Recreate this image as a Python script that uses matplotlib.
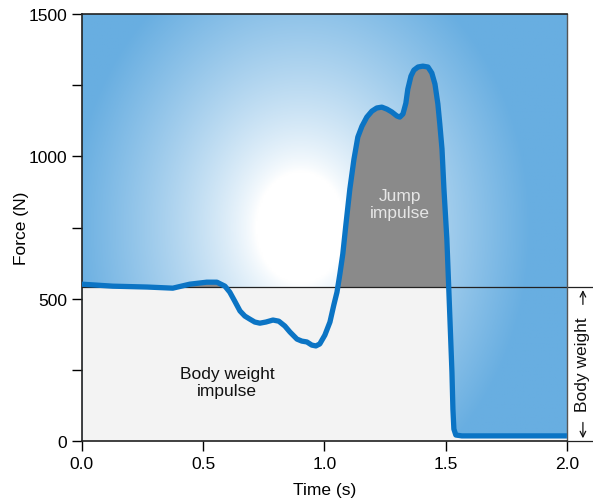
import numpy as np
import matplotlib
matplotlib.use('Agg')
from matplotlib import pyplot as plt
from matplotlib.colors import to_rgb

plt.rcParams['font.family'] = ['Liberation Sans', 'DejaVu Sans']

# force-time curve
time = [0.0, 0.128, 0.268, 0.375, 0.445, 0.515, 0.557, 0.59, 0.61, 0.63,
        0.652, 0.672, 0.693, 0.713, 0.734, 0.759, 0.788, 0.812, 0.837, 0.858,
        0.887, 0.907, 0.928, 0.948, 0.965, 0.981, 1.002, 1.023, 1.039, 1.052,
        1.064, 1.076, 1.089, 1.105, 1.122, 1.138, 1.155, 1.175, 1.196, 1.216,
        1.237, 1.258, 1.278, 1.299, 1.311, 1.324, 1.336, 1.344, 1.357, 1.369,
        1.386, 1.406, 1.427, 1.443, 1.456, 1.468, 1.476, 1.485, 1.493, 1.505,
        1.513, 1.526, 1.53, 1.534, 1.542, 1.567, 1.75, 2.0]
force = [551, 544, 541, 537, 551, 558, 558, 544, 523, 492,
         457, 439, 428, 418, 414, 418, 425, 421, 404, 383,
         358, 351, 348, 337, 334, 341, 372, 418, 478, 523,
         587, 657, 762, 885, 990, 1068, 1106, 1138, 1159, 1170,
         1173, 1166, 1156, 1142, 1138, 1149, 1187, 1236, 1282, 1303,
         1314, 1317, 1314, 1293, 1254, 1184, 1113, 1026, 885, 710,
         534, 242, 112, 42, 21, 18, 18, 18]
body_weight = 540

t = np.array(time)
f = np.array(force)

fig, ax = plt.subplots(figsize=(5.93, 5.02), dpi=100)
fig.subplots_adjust(left=0.138, right=0.956, bottom=0.1195, top=0.970)

# blue background with a pale spot in the middle
gx, gy = np.meshgrid(np.linspace(0, 1, 300), np.linspace(0, 1, 300))
d = np.sqrt(((gx - 0.45) * 485) ** 2 + ((gy - 0.50) * 427 * 0.8) ** 2)
w = np.clip((d - 45) / 185, 0, 1) ** 0.8
blue = np.array(to_rgb('#68aee1'))
img = (1 - w[..., None]) * np.ones(3) + w[..., None] * blue
ax.imshow(img, extent=[0, 2, 0, 1500], origin='lower', aspect='auto', zorder=0)

# body weight impulse (light) and jump impulse (dark)
upper = np.where(t < 1.45, body_weight, np.minimum(body_weight, f))
ax.fill_between(t, 0, upper, color='#f3f3f3', lw=0, zorder=1)
ax.fill_between(t, body_weight, f, where=f > body_weight, interpolate=True,
                color='#8a8a8a', lw=0, zorder=1)

ax.axhline(body_weight, xmin=0, xmax=1.055, color='#222222', lw=0.9,
           clip_on=False, zorder=2)
ax.axhline(0, xmin=1, xmax=1.055, color='#222222', lw=0.9, clip_on=False, zorder=2)

ax.plot(t, f, color='#0b74c4', lw=3.8, solid_joinstyle='round',
        solid_capstyle='butt', zorder=3)

ax.text(0.6, 207, 'Body weight\nimpulse', ha='center', va='center',
        fontsize=12.5, color='#111111', linespacing=1.2, zorder=4)
ax.text(1.31, 832, 'Jump\nimpulse', ha='center', va='center',
        fontsize=12.5, color='#e6e6e6', linespacing=1.2, zorder=4)

# body weight marker on the right
ax.text(2.066, 270, 'Body weight', rotation=90, ha='center', va='center',
        fontsize=12.5, color='#111111', clip_on=False)
ax.annotate('', xy=(2.066, body_weight), xytext=(2.066, 470),
            arrowprops=dict(arrowstyle='->', lw=0.9, color='#111111'),
            annotation_clip=False)
ax.annotate('', xy=(2.066, 0), xytext=(2.066, 75),
            arrowprops=dict(arrowstyle='->', lw=0.9, color='#111111'),
            annotation_clip=False)

ax.set_xlim(0, 2)
ax.set_ylim(0, 1500)
ax.set_xticks([0, 0.5, 1.0, 1.5, 2.0])
ax.set_xticklabels(['0.0', '0.5', '1.0', '1.5', '2.0'])
ax.set_yticks([0, 500, 1000, 1500])
ax.set_yticks([250, 750, 1250], minor=True)
ax.tick_params(axis='both', direction='out', labelsize=12.5, length=7, width=1)
ax.tick_params(axis='y', which='minor', direction='out', length=7, width=1)
ax.set_xlabel('Time (s)', fontsize=12.5, labelpad=8)
ax.set_ylabel('Force (N)', fontsize=12.5, labelpad=0)

for side in ['left', 'bottom', 'top']:
    ax.spines[side].set_color('#222222')
    ax.spines[side].set_linewidth(1.2)
ax.spines['right'].set_color('#555555')
ax.spines['right'].set_linewidth(1.0)

plt.savefig('out.png', dpi=100)
